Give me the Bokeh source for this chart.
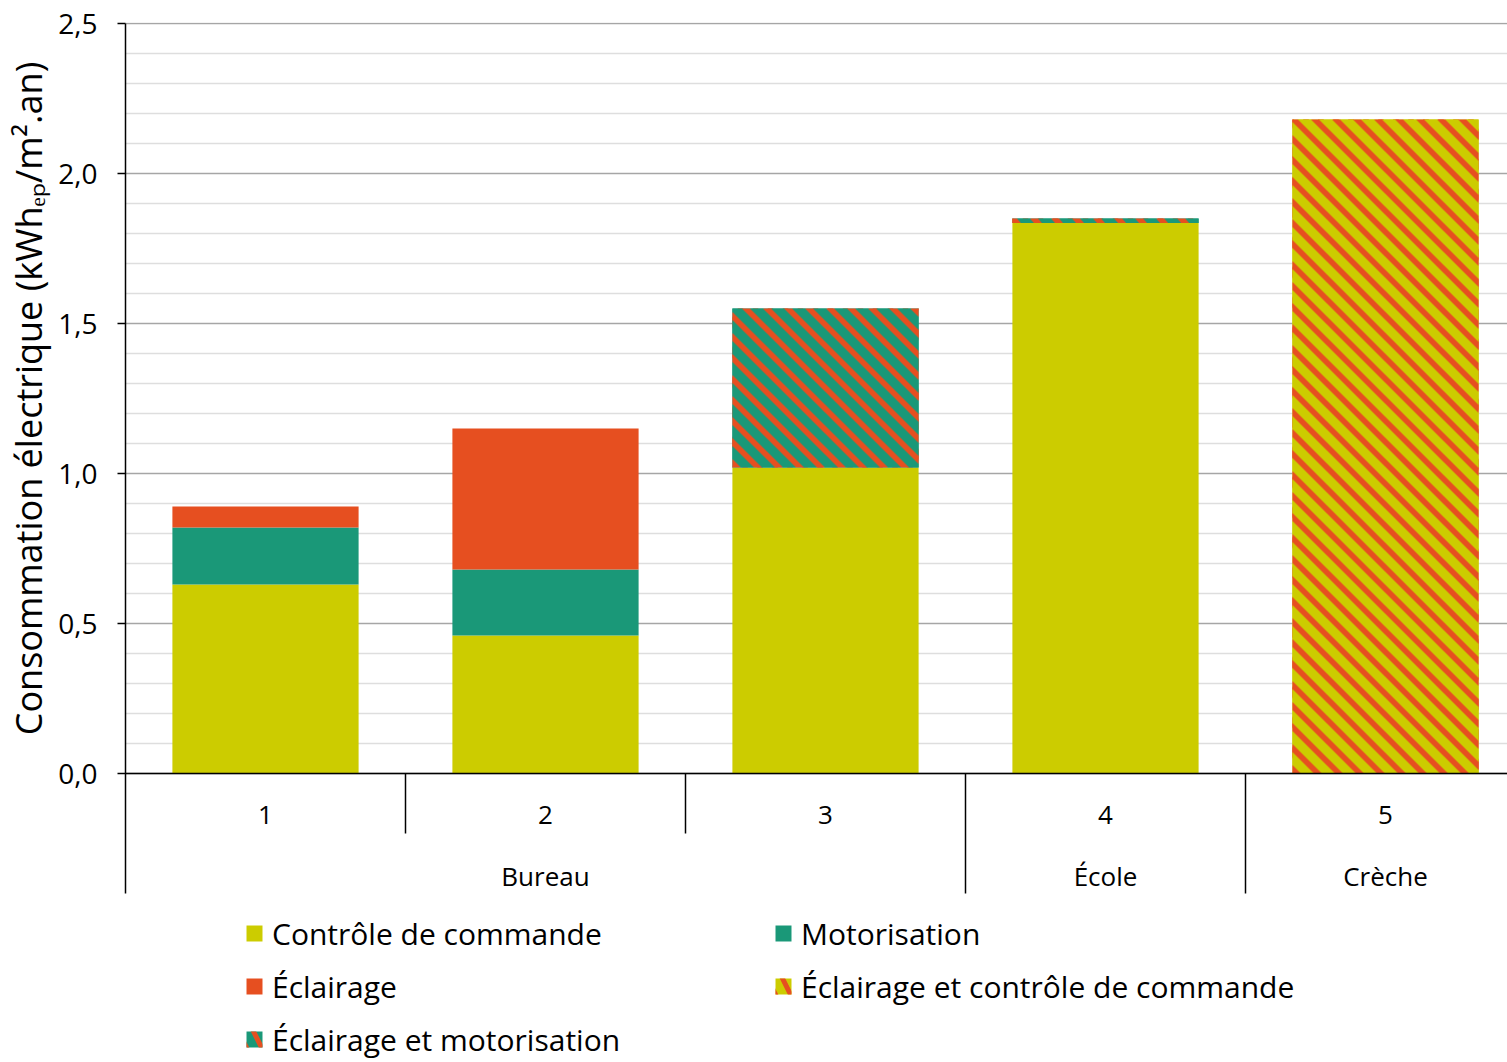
import math
import numpy as np
from bokeh.plotting import figure
from bokeh.layouts import row
from bokeh.models import (ColumnDataSource, Range1d, FixedTicker, Span,
                          Legend, LegendItem)
from bokeh.transform import stack
from bokeh.core.properties import value
from bokeh.embed import file_html
from bokeh.resources import INLINE

# ---------------- data ----------------
categories = ["1", "2", "3", "4", "5"]
groups = ["Bureau", "Bureau", "Bureau", "École", "Crèche"]
controle = [0.63, 0.46, 1.02, 1.835, 0.0]
motorisation = [0.19, 0.22, 0.0, 0.0, 0.0]
eclairage = [0.07, 0.47, 0.0, 0.0, 0.0]
eclairage_motorisation = [0.0, 0.0, 0.53, 0.015, 0.0]
eclairage_controle = [0.0, 0.0, 0.0, 0.0, 2.18]

series_keys = ["controle", "motorisation", "eclairage",
               "eclairage_motorisation", "eclairage_controle"]
series_labels = ["Contrôle de commande", "Motorisation", "Éclairage",
                 "Éclairage et motorisation", "Éclairage et contrôle de commande"]

y_ticks = [0.0, 0.5, 1.0, 1.5, 2.0, 2.5]
y_tick_labels = ["0,0", "0,5", "1,0", "1,5", "2,0", "2,5"]
y_minor_ticks = [0.1, 0.2, 0.3, 0.4, 0.6, 0.7, 0.8, 0.9, 1.1, 1.2, 1.3, 1.4,
                 1.6, 1.7, 1.8, 1.9, 2.1, 2.2, 2.3, 2.4]
y_title = "Consommation électrique (kWhₑₚ/m².an)"

# ---------------- style / layout ----------------
YELLOW = "#CCCC00"
GREEN = "#1A9878"
ORANGE = "#E64F20"
FONT = "Open Sans"

PAGE_W, PAGE_H = 1507, 1062
TITLE_W = 53
FIG_W = PAGE_W - TITLE_W
LEFT = 125 - TITLE_W
TOP = 22
FRAME_W = FIG_W - LEFT
FRAME_H = PAGE_H - TOP
PX_CAT = 280.0
PX_UNIT = 300.0
BAR_W = 0.665
STRIPE_PERIOD = 21   # px, horizontal period of the diagonal stripes
STRIPE_WIDTH = 8     # px, horizontal width of an orange stripe

y_end = 2.5 + 1.0 / PX_UNIT
y_start = y_end - FRAME_H / PX_UNIT
y_range = Range1d(y_start, y_end)

p = figure(width=FIG_W, height=PAGE_H,
           x_range=Range1d(0, FRAME_W / PX_CAT), y_range=y_range,
           x_axis_location=None, y_axis_location="left",
           toolbar_location=None, output_backend="svg",
           min_border_left=LEFT, min_border_right=0,
           min_border_top=TOP, min_border_bottom=0)
p.outline_line_color = None

# y axis
ticker = FixedTicker(ticks=y_ticks, minor_ticks=y_minor_ticks)
p.yaxis.ticker = ticker
p.yaxis.major_label_overrides = {t: l for t, l in zip(y_ticks, y_tick_labels)}
p.yaxis.bounds = (-0.4, 2.5)
p.yaxis.axis_line_color = "black"
p.yaxis.axis_line_width = 1.5
p.yaxis.major_tick_line_color = "black"
p.yaxis.major_tick_line_width = 1.5
p.yaxis.major_tick_out = 8
p.yaxis.major_tick_in = 0
p.yaxis.minor_tick_line_color = None
p.yaxis.major_label_text_font = FONT
p.yaxis.major_label_text_font_size = "28px"
p.yaxis.major_label_text_color = "black"
p.yaxis.major_label_standoff = 20

p.ygrid.grid_line_color = "#a6a6a6"
p.ygrid.grid_line_width = 1.5
p.ygrid.minor_grid_line_color = "#dedede"
p.ygrid.minor_grid_line_width = 1.5
p.xgrid.grid_line_color = None

# bars
xc = [i + 0.5 for i in range(len(categories))]
data = dict(controle=controle, motorisation=motorisation, eclairage=eclairage,
            eclairage_motorisation=eclairage_motorisation,
            eclairage_controle=eclairage_controle)
src = ColumnDataSource(dict(x=xc, **data))

hatch = dict(hatch_pattern="\\", hatch_color=ORANGE, hatch_scale=30,
             hatch_weight=5)
styles = {
    "controle": dict(fill_color=YELLOW),
    "motorisation": dict(fill_color=GREEN),
    "eclairage": dict(fill_color=ORANGE),
    "eclairage_motorisation": dict(fill_color=GREEN, **hatch),
    "eclairage_controle": dict(fill_color=YELLOW, **hatch),
}
renderers = {}
for i, key in enumerate(series_keys):
    bottom = stack(*series_keys[:i]) if i > 0 else 0
    top = stack(*series_keys[:i + 1])
    renderers[key] = p.vbar(x="x", width=BAR_W, bottom=bottom, top=top,
                            source=src, line_color=None, **styles[key])

# 45-degree stripes drawn over the hatched segments (same data extents)
def rgba(hex_color):
    h = hex_color.lstrip("#")
    return [int(h[0:2], 16), int(h[2:4], 16), int(h[4:6], 16), 255]

def stripe_image(w_px, h_px, base, stripe):
    k = np.arange(h_px)[:, None]
    c = np.arange(w_px)[None, :]
    mask = ((c + k) % STRIPE_PERIOD) < STRIPE_WIDTH
    img = np.empty((h_px, w_px), dtype=np.uint32)
    view = img.view(dtype=np.uint8).reshape((h_px, w_px, 4))
    view[...] = rgba(base)
    view[mask] = rgba(stripe)
    return img

hatched = {"eclairage_motorisation": GREEN, "eclairage_controle": YELLOW}
imgs, ix, iy, idw, idh = [], [], [], [], []
for i in range(len(categories)):
    base_y = 0.0
    for key in series_keys:
        v = data[key][i]
        if key in hatched and v > 0:
            w_px = int(round(BAR_W * PX_CAT))
            h_px = max(1, int(round(v * PX_UNIT)))
            imgs.append(stripe_image(w_px, h_px, hatched[key], ORANGE))
            ix.append(xc[i] - BAR_W / 2)
            iy.append(base_y)
            idw.append(BAR_W)
            idh.append(v)
        base_y += v
p.image_rgba(image=imgs, x=ix, y=iy, dw=idw, dh=idh)

# x axis line
p.add_layout(Span(location=0, dimension="width", line_color="black",
                  line_width=1.5))

# category separators and labels
sep_x0, sep_y1 = [], []
for i in range(1, len(categories)):
    sep_x0.append(float(i))
    sep_y1.append(-0.2 if groups[i] == groups[i - 1] else -0.4)
p.segment(x0=sep_x0, y0=[0.0] * len(sep_x0), x1=sep_x0, y1=sep_y1,
          line_color="black", line_width=1.5)

p.text(x=xc, y=[-0.137] * len(xc), text=categories,
       text_font=value(FONT), text_font_size=value("26px"),
       text_align="center", text_baseline="middle", text_color="black")

grp_names, grp_x = [], []
for g in dict.fromkeys(groups):
    idx = [i for i, gg in enumerate(groups) if gg == g]
    grp_names.append(g)
    grp_x.append(sum(xc[i] for i in idx) / len(idx))
p.text(x=grp_x, y=[-0.34] * len(grp_x), text=grp_names,
       text_font=value(FONT), text_font_size=value("26px"),
       text_align="center", text_baseline="middle", text_color="black")

# legends (two columns)
def make_legend(keys, loc):
    items = [LegendItem(label=series_labels[series_keys.index(k)],
                        renderers=[renderers[k]]) for k in keys]
    leg = Legend(items=items, location=loc, orientation="vertical",
                 glyph_width=20, glyph_height=20, label_standoff=8,
                 label_text_font=FONT, label_text_font_size="30px",
                 label_text_color="black", label_height=42, spacing=11,
                 padding=0, margin=0, border_line_color=None,
                 background_fill_alpha=0)
    p.add_layout(leg, "center")

make_legend(["controle", "eclairage", "eclairage_motorisation"], (119, 2))
make_legend(["motorisation", "eclairage_controle"], (648, 55))

# y-axis title in a narrow companion figure sharing the y range
t = figure(width=TITLE_W, height=PAGE_H, x_range=Range1d(0, TITLE_W),
           y_range=y_range, x_axis_location=None, y_axis_location=None,
           toolbar_location=None, output_backend="svg",
           min_border_left=0, min_border_right=0,
           min_border_top=TOP, min_border_bottom=0)
t.outline_line_color = None
t.grid.visible = False
t.text(x=[28], y=[1.25], text=[y_title], angle=math.pi / 2,
       text_font=value(FONT), text_font_size=value("36px"),
       text_align="center", text_baseline="middle", text_color="black")

layout = row(t, p, spacing=0)
open("out.html", "w").write(file_html(layout, INLINE))
